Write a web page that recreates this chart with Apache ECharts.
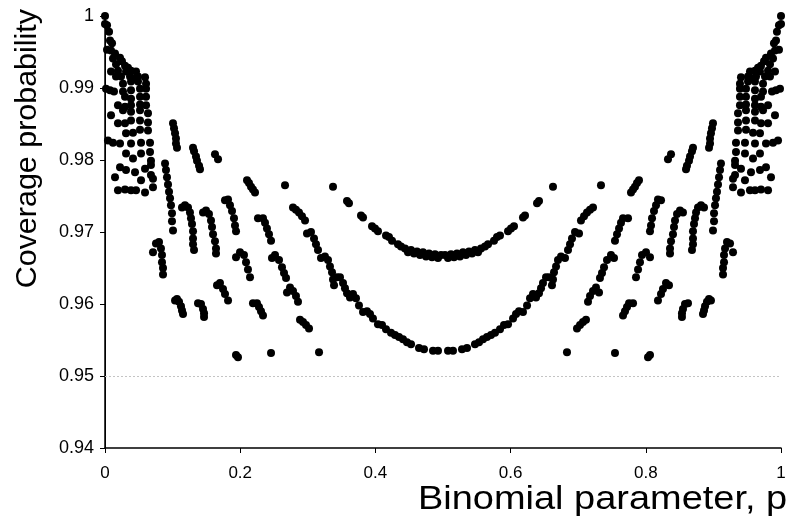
<!DOCTYPE html>
<html><head><meta charset="utf-8">
<script src="https://cdn.jsdelivr.net/npm/echarts@6/dist/echarts.min.js"></script>
<style>html,body{margin:0;padding:0;background:#fff}#c{width:792px;height:520px}</style>
</head><body><div id="c"></div>
<script>
// Coverage probability vs binomial parameter p
const xTickLabels = ['0', '0.2', '0.4', '0.6', '0.8', '1'];
const yTickLabels = ['0.94', '0.95', '0.96', '0.97', '0.98', '0.99', '1'];
const referenceLevel = 0.95;

const leftCluster = [[0,1.0000],[0,0.9989],[0.003,0.9987],[0.006,0.9978],[0.0074,0.9966],[0.0104,0.9962],[0.003,0.9953],[0.0089,0.9952],[0.0148,0.9948],[0.0118,0.9941],[0.0222,0.9942],[0.0251,0.9937],[0.0163,0.9933],[0.0296,0.9931],[0.034,0.9928],[0.0089,0.9923],[0.0192,0.9924],[0.0311,0.9923],[0.0385,0.9924],[0.0459,0.9923],[0.0163,0.9916],[0.0237,0.9916],[0.037,0.9916],[0.0414,0.9913],[0.0488,0.9916],[0.0592,0.9915],[0.0266,0.9906],[0.0385,0.9909],[0.0488,0.9909],[0.0607,0.9906],[0.0015,0.9899],[0.0074,0.9897],[0.0133,0.9895],[0.0266,0.9895],[0.0385,0.9897],[0.0518,0.9899],[0.0607,0.9899],[0.0296,0.9888],[0.0385,0.9885],[0.0518,0.9888],[0.0607,0.9888],[0.0192,0.9876],[0.0296,0.9874],[0.0385,0.9876],[0.0518,0.9877],[0.0607,0.9876],[0.0266,0.9869],[0.0385,0.9867],[0.0518,0.9869],[0.0636,0.9865],[0.0089,0.9862],[0.0192,0.9851],[0.0296,0.9851],[0.0385,0.9855],[0.0518,0.9855],[0.0636,0.9852],[0.0311,0.9837],[0.0414,0.9838],[0.0518,0.9842],[0.0636,0.9841],[0.0044,0.9827],[0.0118,0.9824],[0.0222,0.9823],[0.0385,0.9823],[0.0533,0.9824],[0.0666,0.9824],[0.0311,0.9809],[0.0414,0.9802],[0.0533,0.9809],[0.0666,0.9811],[0.0222,0.9790],[0.0311,0.9786],[0.0444,0.9783],[0.0592,0.9788],[0.068,0.9793],[0.0148,0.9776],[0.0533,0.9772],[0.071,0.9774],[0.0192,0.9758],[0.0296,0.9759],[0.0385,0.9758],[0.0459,0.9758],[0.0592,0.9755],[0.071,0.9762],[0.068,0.9799],[0.068,0.9779]];

const rightCluster = [[1,1.0000],[1,0.9989],[0.997,0.9987],[0.994,0.9978],[0.9926,0.9966],[0.9896,0.9962],[0.997,0.9953],[0.9911,0.9952],[0.9852,0.9948],[0.9882,0.9941],[0.9778,0.9942],[0.9749,0.9937],[0.9837,0.9933],[0.9704,0.9931],[0.966,0.9928],[0.9911,0.9923],[0.9808,0.9924],[0.9689,0.9923],[0.9615,0.9924],[0.9541,0.9923],[0.9837,0.9916],[0.9763,0.9916],[0.963,0.9916],[0.9586,0.9913],[0.9512,0.9916],[0.9408,0.9915],[0.9734,0.9906],[0.9615,0.9909],[0.9512,0.9909],[0.9393,0.9906],[0.9985,0.9899],[0.9926,0.9897],[0.9867,0.9895],[0.9734,0.9895],[0.9615,0.9897],[0.9482,0.9899],[0.9393,0.9899],[0.9704,0.9888],[0.9615,0.9885],[0.9482,0.9888],[0.9393,0.9888],[0.9808,0.9876],[0.9704,0.9874],[0.9615,0.9876],[0.9482,0.9877],[0.9393,0.9876],[0.9734,0.9869],[0.9615,0.9867],[0.9482,0.9869],[0.9364,0.9865],[0.9911,0.9862],[0.9808,0.9851],[0.9704,0.9851],[0.9615,0.9855],[0.9482,0.9855],[0.9364,0.9852],[0.9689,0.9837],[0.9586,0.9838],[0.9482,0.9842],[0.9364,0.9841],[0.9956,0.9827],[0.9882,0.9824],[0.9778,0.9823],[0.9615,0.9823],[0.9467,0.9824],[0.9334,0.9824],[0.9689,0.9809],[0.9586,0.9802],[0.9467,0.9809],[0.9334,0.9811],[0.9778,0.9790],[0.9689,0.9786],[0.9556,0.9783],[0.9408,0.9788],[0.932,0.9793],[0.9852,0.9776],[0.9467,0.9772],[0.929,0.9774],[0.9808,0.9758],[0.9704,0.9759],[0.9615,0.9758],[0.9541,0.9758],[0.9408,0.9755],[0.929,0.9762],[0.932,0.9799],[0.932,0.9779]];

const leftStrokes = [
[0.1006,0.9851],[0.1021,0.9844],[0.1036,0.9837],[0.105,0.9830],[0.105,0.9823],[0.1065,0.9817],
[0.0888,0.9795],[0.0902,0.9786],[0.0917,0.9776],[0.0932,0.9766],[0.0947,0.9756],[0.0962,0.9747],[0.0976,0.9737],[0.0991,0.9726],[0.0991,0.9715],[0.1006,0.9702],
[0.071,0.9672],[0.0754,0.9684],[0.0799,0.9686],[0.0828,0.9677],[0.0843,0.9668],[0.0843,0.9658],[0.0858,0.9650],[0.0858,0.9641],
[0.1036,0.9605],[0.1065,0.9607],[0.1095,0.9603],[0.1124,0.9597],[0.1139,0.9591],[0.1154,0.9586],
[0.1302,0.9817],[0.1317,0.9812],[0.1346,0.9805],[0.1361,0.9799],[0.1391,0.9792],[0.1405,0.9787],
[0.1627,0.9808],[0.1672,0.9801],
[0.1139,0.9734],[0.1183,0.9737],[0.1228,0.9734],[0.1257,0.9727],[0.1272,0.9719],[0.1287,0.9711],[0.1302,0.9701],[0.1302,0.9691],[0.1302,0.9683],[0.1317,0.9675],
[0.145,0.9727],[0.1494,0.9730],[0.1538,0.9725],[0.1568,0.9716],[0.1583,0.9707],[0.1598,0.9697],[0.1627,0.9687],[0.1642,0.9677],[0.1642,0.9670],
[0.1775,0.9744],[0.182,0.9745],[0.1849,0.9737],[0.1879,0.9729],[0.1908,0.9719],[0.1923,0.9709],[0.1938,0.9701],
[0.2101,0.9772],[0.213,0.9768],[0.216,0.9763],[0.2189,0.9759],[0.2219,0.9755],
[0.2663,0.9765],
[0.2263,0.9719],[0.2337,0.9719],[0.2367,0.9713],[0.2396,0.9705],[0.2426,0.9697],[0.2456,0.9688],
[0.2781,0.9734],[0.2825,0.9731],[0.287,0.9727],[0.2914,0.9722],[0.2959,0.9716],
[0.2988,0.9698],[0.3047,0.9700],[0.3092,0.9691],[0.3121,0.9683],[0.3151,0.9675],
[0.1938,0.9665],[0.1997,0.9672],[0.2056,0.9668],[0.2086,0.9658],[0.2115,0.9648],[0.2145,0.9637],
[0.247,0.9664],[0.2515,0.9668],[0.2574,0.9661],[0.2618,0.9651],[0.2648,0.9643],[0.2678,0.9636],
[0.2692,0.9616],[0.2737,0.9623],[0.2781,0.9618],[0.2825,0.9611],[0.2855,0.9603],
[0.2189,0.9601],[0.2248,0.9601],[0.2278,0.9596],[0.2308,0.9590],[0.2337,0.9584],
[0.2885,0.9578],[0.2929,0.9575],[0.2973,0.9571],[0.3018,0.9566],
[0.1376,0.9601],[0.142,0.9600],[0.145,0.9593],[0.1465,0.9587],[0.1465,0.9582],
[0.1657,0.9626],[0.1701,0.9629],[0.1746,0.9621],[0.1775,0.9614],[0.182,0.9605],
[0.1938,0.9529],[0.1967,0.9526],[0.2456,0.9532],[0.3166,0.9533]];

const rightStrokes = [
[0.8994,0.9851],[0.8979,0.9844],[0.8964,0.9837],[0.895,0.9830],[0.895,0.9823],[0.8935,0.9817],
[0.9112,0.9795],[0.9098,0.9786],[0.9083,0.9776],[0.9068,0.9766],[0.9053,0.9756],[0.9038,0.9747],[0.9024,0.9737],[0.9009,0.9726],[0.9009,0.9715],[0.8994,0.9702],
[0.929,0.9672],[0.9246,0.9684],[0.9201,0.9686],[0.9172,0.9677],[0.9157,0.9668],[0.9157,0.9658],[0.9142,0.9650],[0.9142,0.9641],
[0.8964,0.9605],[0.8935,0.9607],[0.8905,0.9603],[0.8876,0.9597],[0.8861,0.9591],[0.8846,0.9586],
[0.8698,0.9817],[0.8683,0.9812],[0.8654,0.9805],[0.8639,0.9799],[0.8609,0.9792],[0.8595,0.9787],
[0.8373,0.9808],[0.8328,0.9801],
[0.8861,0.9734],[0.8817,0.9737],[0.8772,0.9734],[0.8743,0.9727],[0.8728,0.9719],[0.8713,0.9711],[0.8698,0.9701],[0.8698,0.9691],[0.8698,0.9683],[0.8683,0.9675],
[0.855,0.9727],[0.8506,0.9730],[0.8462,0.9725],[0.8432,0.9716],[0.8417,0.9707],[0.8402,0.9697],[0.8373,0.9687],[0.8358,0.9677],[0.8358,0.9670],
[0.8225,0.9744],[0.818,0.9745],[0.8151,0.9737],[0.8121,0.9729],[0.8092,0.9719],[0.8077,0.9709],[0.8062,0.9701],
[0.7899,0.9772],[0.787,0.9768],[0.784,0.9763],[0.7811,0.9759],[0.7781,0.9755],
[0.7337,0.9765],
[0.7737,0.9719],[0.7663,0.9719],[0.7633,0.9713],[0.7604,0.9705],[0.7574,0.9697],[0.7544,0.9688],
[0.7219,0.9734],[0.7175,0.9731],[0.713,0.9727],[0.7086,0.9722],[0.7041,0.9716],
[0.7012,0.9698],[0.6953,0.9700],[0.6908,0.9691],[0.6879,0.9683],[0.6849,0.9675],
[0.8062,0.9665],[0.8003,0.9672],[0.7944,0.9668],[0.7914,0.9658],[0.7885,0.9648],[0.7855,0.9637],
[0.753,0.9664],[0.7485,0.9668],[0.7426,0.9661],[0.7382,0.9651],[0.7352,0.9643],[0.7322,0.9636],
[0.7308,0.9616],[0.7263,0.9623],[0.7219,0.9618],[0.7175,0.9611],[0.7145,0.9603],
[0.7811,0.9601],[0.7752,0.9601],[0.7722,0.9596],[0.7692,0.9590],[0.7663,0.9584],
[0.7115,0.9578],[0.7071,0.9575],[0.7027,0.9571],[0.6982,0.9566],
[0.8624,0.9601],[0.858,0.9600],[0.855,0.9593],[0.8535,0.9587],[0.8535,0.9582],
[0.8343,0.9626],[0.8299,0.9629],[0.8254,0.9621],[0.8225,0.9614],[0.818,0.9605],
[0.8062,0.9529],[0.8033,0.9526],[0.7544,0.9532],[0.6834,0.9533]];

const upperCurve = [[0.3373,0.9763],[0.358,0.9743],[0.3609,0.9740],[0.3787,0.9723],[0.3817,0.9720],[0.395,0.9708],[0.3994,0.9705],[0.4038,0.9701],[0.4157,0.9695],[0.4201,0.9693],[0.4246,0.9688],[0.4334,0.9683],[0.4379,0.9680],[0.4438,0.9677],[0.4482,0.9672],[0.4527,0.9675],[0.4571,0.9670],[0.4615,0.9673],[0.466,0.9668],[0.4704,0.9672],[0.4749,0.9666],[0.4793,0.9670],[0.4837,0.9665],[0.4882,0.9669],[0.4926,0.9664],[0.497,0.9668],
[0.503,0.9668],[0.5074,0.9664],[0.5118,0.9669],[0.5163,0.9665],[0.5207,0.9670],[0.5251,0.9666],[0.5296,0.9672],[0.534,0.9668],[0.5385,0.9673],[0.5429,0.9670],[0.5473,0.9675],[0.5518,0.9672],[0.5562,0.9677],[0.5621,0.9680],[0.5666,0.9683],[0.5754,0.9688],[0.5799,0.9693],[0.5843,0.9695],[0.5962,0.9701],[0.6006,0.9705],[0.605,0.9708],[0.6183,0.9720],[0.6213,0.9723],[0.6391,0.9740],[0.642,0.9743],[0.6627,0.9763]];

const lowerCurve = [[0.3195,0.9664],[0.3254,0.9666],[0.3299,0.9661],[0.3328,0.9652],[0.3358,0.9644],[0.3373,0.9634],[0.3388,0.9626],[0.3432,0.9637],[0.3476,0.9637],[0.3521,0.9629],[0.355,0.9622],[0.358,0.9615],[0.3624,0.9609],[0.3669,0.9614],[0.3713,0.9608],[0.3757,0.9598],[0.3817,0.9589],[0.3876,0.9590],[0.392,0.9586],[0.3964,0.9580],[0.4038,0.9572],[0.4098,0.9571],[0.4157,0.9565],[0.4231,0.9560],[0.429,0.9557],[0.4349,0.9554],[0.4408,0.9551],[0.4467,0.9547],[0.4527,0.9544],[0.4645,0.9539],[0.4719,0.9537],[0.4852,0.9535],[0.4926,0.9535],
[0.5074,0.9535],[0.5148,0.9535],[0.5281,0.9537],[0.5355,0.9539],[0.5473,0.9544],[0.5533,0.9547],[0.5592,0.9551],[0.5651,0.9554],[0.571,0.9557],[0.5769,0.9560],[0.5843,0.9565],[0.5902,0.9571],[0.5962,0.9572],[0.6036,0.9580],[0.608,0.9586],[0.6124,0.9590],[0.6183,0.9589],[0.6243,0.9598],[0.6287,0.9608],[0.6331,0.9614],[0.6376,0.9609],[0.642,0.9615],[0.645,0.9622],[0.6479,0.9629],[0.6524,0.9637],[0.6568,0.9637],[0.6612,0.9626],[0.6627,0.9634],[0.6642,0.9644],[0.6672,0.9652],[0.6701,0.9661],[0.6746,0.9666],[0.6805,0.9664]];

const allPoints = [].concat(leftCluster, rightCluster, leftStrokes, rightStrokes, upperCurve, lowerCurve);
const FONT = 'Arial, "Liberation Sans", sans-serif';
const fmt = v => String(+(+v).toFixed(2));

const chart = echarts.init(document.getElementById('c'), null, {renderer: 'canvas'});
chart.setOption({
  animation: false,
  backgroundColor: '#fff',
  grid: {left: 105, right: 11, top: 16, bottom: 72, containLabel: false},
  xAxis: {
    type: 'value', min: 0, max: 1, interval: 0.2,
    axisLine: {show: true, onZero: false, lineStyle: {color: '#000', width: 1.5}},
    axisTick: {show: true, inside: false, length: 5, lineStyle: {color: '#000', width: 1}},
    axisLabel: {margin: 17, color: '#000', fontSize: 17, fontFamily: FONT,
      formatter: v => { const s = fmt(v); return xTickLabels.indexOf(s) >= 0 ? s : ''; }},
    splitLine: {show: false}
  },
  yAxis: [{
    type: 'value', min: 0.94, max: 1, interval: 0.01,
    axisLine: {show: true, onZero: false, lineStyle: {color: '#000', width: 1.5}},
    axisTick: {show: true, inside: false, length: 5, lineStyle: {color: '#000', width: 1}},
    axisLabel: {margin: 11, color: '#000', fontSize: 18, fontFamily: FONT,
      formatter: v => { const s = fmt(v); return yTickLabels.indexOf(s) >= 0 ? s : ''; }},
    splitLine: {show: false}
  }, {
    type: 'value', min: 0.94, max: 1, interval: 0.01, position: 'right',
    axisLine: {show: true, lineStyle: {color: '#000', width: 1}},
    axisTick: {show: false}, axisLabel: {show: false}, splitLine: {show: false}
  }],
  graphic: [
    {type: 'text', left: 13, top: 9, rotation: Math.PI / 2, origin: [0, 0], scaleX: 1.05,
      style: {text: 'Coverage probability', font: '29px ' + FONT, fill: '#000'}},
    {type: 'text', x: 418, y: 500, scaleX: 1.15,
      style: {text: 'Binomial parameter, p', font: '33px ' + FONT, fill: '#000', textVerticalAlign: 'middle'}}
  ],
  series: [{
    type: 'scatter', data: allPoints, symbol: 'circle', symbolSize: 8,
    itemStyle: {color: '#000', opacity: 1}, silent: true,
    markLine: {
      silent: true, symbol: ['none', 'none'], label: {show: false},
      lineStyle: {color: '#c4c4c4', type: [2, 2], width: 1},
      data: [{yAxis: referenceLevel}]
    }
  }]
});
</script></body></html>
